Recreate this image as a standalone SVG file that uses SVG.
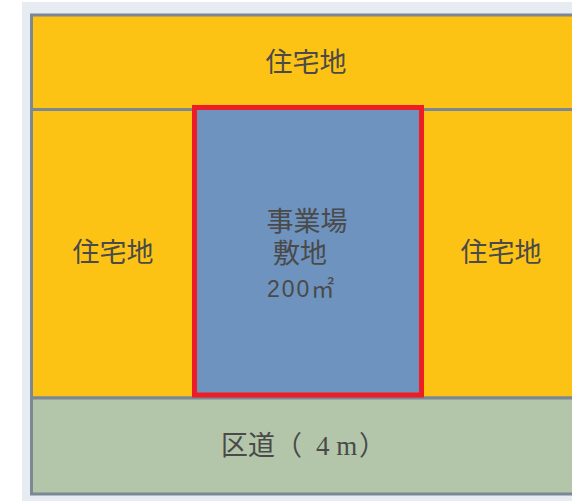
<svg xmlns="http://www.w3.org/2000/svg" width="572" height="501" viewBox="0 0 572 501">
<style>
.lot{stroke:#7b8794;stroke-width:3}
.yel{fill:#fdc314}
.t{font-family:"Noto Sans CJK JP","Liberation Sans",sans-serif;fill:#4a4a4a;text-anchor:middle;font-size:27px}
.c{font-family:"Liberation Sans","Noto Sans CJK JP",sans-serif;fill:#4a4a4a;text-anchor:middle;font-size:27px}
.s{font-family:"Liberation Serif","Noto Sans CJK JP",serif;fill:#4a4a4a;font-size:27px}
</style>
<rect x="0" y="0" width="572" height="501" fill="#ffffff"/>
<rect x="22" y="2" width="550" height="499" fill="#e7ebf2"/>
<g id="top-residential">
<rect class="lot yel" x="31.5" y="15" width="545" height="94.5"/>
<text class="t" x="306" y="72">住宅地</text>
</g>
<g id="left-residential">
<rect class="lot yel" x="31.5" y="109.5" width="165" height="288.5"/>
<text class="t" x="113" y="262">住宅地</text>
</g>
<g id="right-residential">
<rect class="lot yel" x="419" y="109.5" width="160" height="288.5"/>
<text class="t" x="501" y="262">住宅地</text>
</g>
<g id="road">
<rect class="lot" x="31.5" y="398" width="545" height="96" fill="#b3c6aa"/>
<text class="t" style="text-anchor:start" x="221" y="455">区道（<tspan class="s" x="316">4 m</tspan><tspan x="359">）</tspan></text>
</g>
<g id="site">
<rect x="194.5" y="107.5" width="227" height="287.5" fill="#6e93be" stroke="#ee1c24" stroke-width="5"/>
<text class="c" x="307" y="231">事業場</text>
<text class="c" x="300" y="263">敷地</text>
<text class="c" x="267" y="297" style="font-size:23px;text-anchor:start;letter-spacing:2px">200㎡</text>
</g>
<g id="connectors"></g>
</svg>
